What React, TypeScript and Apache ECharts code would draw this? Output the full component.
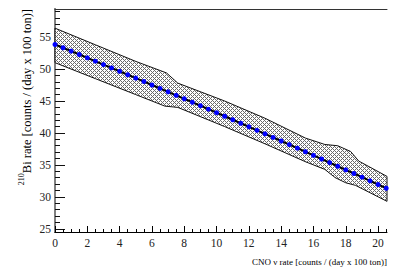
import React, { useEffect, useRef } from "react";
import * as echarts from "echarts";

const centerX = [0, 0.5, 1, 1.5, 2, 2.5, 3, 3.5, 4, 4.5, 5, 5.5, 6, 6.5, 7, 7.5, 8, 8.5, 9, 9.5, 10, 10.5, 11, 11.5, 12, 12.5, 13, 13.5, 14, 14.5, 15, 15.5, 16, 16.5, 17, 17.5, 18, 18.5, 19, 19.5, 20, 20.5];
const centerY = [53.85, 53.33, 52.81, 52.28, 51.76, 51.23, 50.7, 50.18, 49.65, 49.11, 48.58, 48.05, 47.51, 46.97, 46.43, 45.89, 45.35, 44.81, 44.26, 43.72, 43.17, 42.62, 42.07, 41.52, 40.97, 40.41, 39.86, 39.3, 38.74, 38.18, 37.62, 37.06, 36.49, 35.93, 35.36, 34.79, 34.22, 33.65, 33.08, 32.51, 31.93, 31.35];

const upperX = [0, 2.5, 5, 6.9, 7.6, 10.5, 13, 15.5, 16.7, 17.5, 18.3, 18.8, 20.55];
const upperY = [56.4, 53.8, 51.2, 49.4, 47.8, 45.0, 42.3, 39.2, 38.2, 38.0, 37.1, 35.6, 33.2];
const lowerX = [0, 2.5, 5, 6.8, 7.6, 10.5, 13, 15.5, 16.7, 17.35, 18.0, 18.6, 20.55];
const lowerY = [51.0, 48.5, 46.0, 44.2, 44.0, 41.0, 38.3, 35.5, 34.3, 33.0, 32.2, 31.8, 29.3];

const xLabels = [0, 2, 4, 6, 8, 10, 12, 14, 16, 18, 20];
const xMinorTicks = [0, 0.5, 1, 1.5, 2, 2.5, 3, 3.5, 4, 4.5, 5, 5.5, 6, 6.5, 7, 7.5, 8, 8.5, 9, 9.5, 10, 10.5, 11, 11.5, 12, 12.5, 13, 13.5, 14, 14.5, 15, 15.5, 16, 16.5, 17, 17.5, 18, 18.5, 19, 19.5, 20, 20.5];
const yLabels = [25, 30, 35, 40, 45, 50, 55];
const yMinorTicks = [25, 26, 27, 28, 29, 30, 31, 32, 33, 34, 35, 36, 37, 38, 39, 40, 41, 42, 43, 44, 45, 46, 47, 48, 49, 50, 51, 52, 53, 54, 55, 56, 57, 58, 59];

const X_MIN = 0;
const X_MAX = 20.55;
const Y_MIN = 24.5;
const Y_MAX = 59.4;

const SERIF = "Liberation Serif";

function makeHatch(): HTMLCanvasElement {
  const c = document.createElement("canvas");
  c.width = 4;
  c.height = 4;
  const ctx = c.getContext("2d")!;
  ctx.fillStyle = "#ffffff";
  ctx.fillRect(0, 0, 4, 4);
  ctx.fillStyle = "#6a6a6a";
  for (let x = 0; x < 4; x++) {
    for (let y = 0; y < 4; y++) {
      if ((x + y) % 4 === 0 || (x - y + 4) % 4 === 0) ctx.fillRect(x, y, 1, 1);
    }
  }
  return c;
}

export default function App() {
  const ref = useRef<HTMLDivElement>(null);
  useEffect(() => {
    document.body.style.margin = "0";
    if (!ref.current) return;
    const chart = echarts.init(ref.current, undefined, { renderer: "svg" });
    const hatch = makeHatch();
    const pattern: any = { image: hatch, repeat: "repeat", imageWidth: 4, imageHeight: 4 };

    const baseX = { type: "value", min: X_MIN, max: X_MAX, gridIndex: 0 } as any;
    const baseY = { type: "value", min: Y_MIN, max: Y_MAX, gridIndex: 0 } as any;

    chart.setOption({
      animation: false,
      backgroundColor: "#ffffff",
      textStyle: { fontFamily: SERIF },
      grid: { left: 55, right: 28, top: 9, bottom: 43, containLabel: false, outerBoundsMode: "none" } as any,
      xAxis: [
        {
          ...baseX,
          position: "bottom",
          splitLine: { show: false },
          axisLine: { show: true, lineStyle: { color: "#000", width: 1 } },
          axisTick: { show: true, inside: true, length: 6, customValues: xLabels, lineStyle: { color: "#000" } },
          axisLabel: { show: true, customValues: xLabels, margin: 5, color: "#222", fontFamily: SERIF, fontSize: 11.5 },
        },
        {
          ...baseX,
          position: "bottom",
          splitLine: { show: false },
          axisLine: { show: false },
          axisTick: { show: true, inside: true, length: 3, customValues: xMinorTicks, lineStyle: { color: "#000" } },
          axisLabel: { show: false },
        },
        {
          ...baseX,
          position: "top",
          splitLine: { show: false },
          axisLine: { show: true, lineStyle: { color: "#333", width: 1 } },
          axisTick: { show: false },
          axisLabel: { show: false },
        },
      ],
      yAxis: [
        {
          ...baseY,
          position: "left",
          splitLine: { show: false },
          axisLine: { show: true, lineStyle: { color: "#808080", width: 2 } },
          axisTick: { show: true, inside: true, length: 10, customValues: yLabels, lineStyle: { color: "#111" } },
          axisLabel: { show: true, customValues: yLabels, margin: 4, color: "#222", fontFamily: SERIF, fontSize: 11.5 },
        },
        {
          ...baseY,
          position: "left",
          splitLine: { show: false },
          axisLine: { show: false },
          axisTick: { show: true, inside: true, length: 5, customValues: yMinorTicks, lineStyle: { color: "#111" } },
          axisLabel: { show: false },
        },
        {
          ...baseY,
          position: "right",
          splitLine: { show: false },
          axisLine: { show: true, lineStyle: { color: "#808080", width: 2 } },
          axisTick: { show: false },
          axisLabel: { show: false },
        },
      ],
      graphic: [
        {
          type: "text",
          x: 27,
          y: 9,
          rotation: Math.PI / 2,
          style: {
            text: "{sup|210}{main|Bi rate [counts / (day x 100 ton)]}",
            align: "right",
            verticalAlign: "middle",
            fill: "#000",
            fontFamily: SERIF,
            rich: {
              sup: { fontSize: 8, lineHeight: 8, fontFamily: SERIF, fill: "#000", padding: [0, 0, 12, 0] },
              main: { fontSize: 12.5, fontFamily: SERIF, fill: "#000" },
            },
          },
        },
        {
          type: "text",
          x: 387,
          y: 262,
          style: {
            text: "CNO ν rate [counts / (day x 100 ton)]",
            align: "right",
            verticalAlign: "middle",
            fill: "#000",
            fontFamily: SERIF,
            fontSize: 9,
          },
        },
      ],
      series: [
        {
          type: "custom",
          xAxisIndex: 0,
          yAxisIndex: 0,
          z: 1,
          data: [[0, 50]],
          renderItem: (params: any, api: any) => {
            if (params.dataIndex !== 0) return null;
            const pts: number[][] = [];
            for (let i = 0; i < upperX.length; i++) pts.push(api.coord([upperX[i], upperY[i]]));
            for (let i = lowerX.length - 1; i >= 0; i--) pts.push(api.coord([lowerX[i], lowerY[i]]));
            return {
              type: "polygon",
              shape: { points: pts },
              style: { fill: pattern, stroke: "#111", lineWidth: 1 },
            };
          },
        },
        {
          type: "line",
          xAxisIndex: 0,
          yAxisIndex: 0,
          z: 3,
          data: centerX.map((x, i) => [x, centerY[i]]),
          showSymbol: true,
          symbol: "circle",
          symbolSize: 5,
          itemStyle: { color: "#0000ff", borderWidth: 0 },
          lineStyle: { color: "#000", width: 2 },
        },
      ],
    });
    return () => chart.dispose();
  }, []);
  return <div ref={ref} style={{ width: 415, height: 275 }} />;
}
